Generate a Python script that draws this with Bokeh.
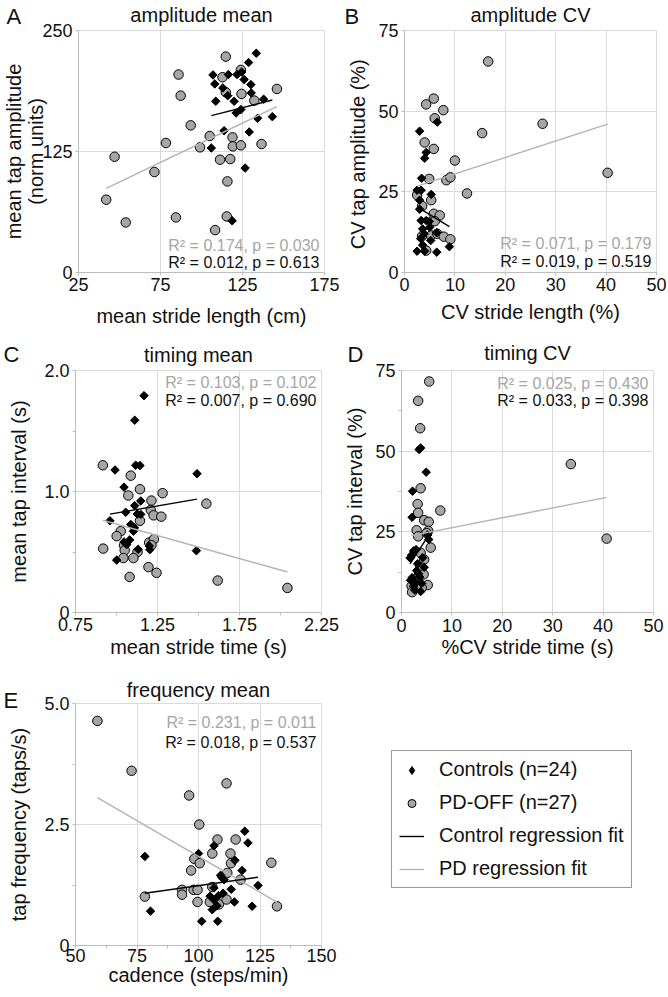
import math
from bokeh.plotting import figure
from bokeh.models import (FixedTicker, Label, Legend, LegendItem, Range1d, Title,
                          CustomJSTickFormatter)
from bokeh.layouts import column, row
from bokeh.embed import file_html
from bokeh.resources import INLINE

FONT = "Liberation Sans"
GREY_PT = "#a6a6a6"
GREY_LN = "#b4b4b4"
GREY_TX = "#a6a6a6"
AXC = "#bdbdbd"
GRIDC = "#dadada"
TXT = "#111111"

# ---------------- data ----------------
# A: amplitude mean
a_ctrl_x = [133.4, 128.7, 107.0, 116.4, 121.7, 108.1, 113.0, 126.0, 130.1, 116.0, 130.3, 108.7,
            119.9, 137.9, 124.0, 121.1, 134.2, 143.2, 113.8, 129.1, 106.0, 126.6, 118.7, 124.5]
a_ctrl_y = [226.5, 216.9, 204.1, 204.5, 204.5, 194.8, 190.7, 199.3, 194.1, 182.7, 185.5, 176.9,
            176.9, 179.0, 168.3, 164.8, 159.3, 161.0, 146.5, 145.2, 128.6, 107.9, 53.4, 207.0]
a_pd_x = [114.8, 86.0, 112.8, 124.0, 87.3, 114.8, 124.4, 132.2, 146.0, 93.4, 105.0, 78.3, 99.1, 118.9,
          119.1, 124.0, 136.6, 47.0, 71.3, 111.3, 117.5, 115.8, 41.9, 53.8, 84.4, 115.4, 108.3]
a_pd_y = [223.0, 204.5, 201.7, 209.3, 182.7, 186.2, 184.5, 177.6, 189.6, 152.0, 141.0, 133.8, 129.3, 139.6,
          130.3, 131.4, 132.7, 119.6, 103.8, 116.5, 117.2, 94.1, 75.2, 51.7, 56.9, 57.9, 43.8]
a_fit_ctrl = [0.436, 115.8]   # slope, intercept
a_fit_pd = [0.811, 53.0]
a_stats = ["R\u00b2 = 0.174, p = 0.030", "R\u00b2 = 0.012, p = 0.613"]  # PD, Controls

# B: amplitude CV
b_ctrl_x = [3.0, 6.5, 4.3, 4.0, 3.4, 2.5, 3.3, 5.3, 3.0, 3.0, 3.3, 4.3, 4.9, 3.6, 3.9, 6.4, 3.6, 5.2,
            2.5, 4.0, 6.4, 8.9, 5.0, 3.2]
b_ctrl_y = [43.8, 46.6, 37.2, 35.4, 29.2, 25.5, 25.5, 24.2, 22.4, 19.6, 16.1, 16.1, 15.8, 13.5, 12.0,
            12.3, 8.5, 9.9, 6.6, 6.6, 6.3, 8.0, 14.0, 10.5]
b_pd_x = [16.6, 5.8, 4.3, 7.7, 6.0, 27.4, 15.4, 4.0, 5.8, 10.0, 4.9, 8.3, 9.1, 40.3, 12.4, 2.5, 3.5,
          5.3, 5.8, 7.0, 6.0, 3.5, 5.3, 6.5, 7.8, 9.1, 4.3]
b_pd_y = [65.4, 53.9, 52.1, 50.3, 47.8, 46.1, 43.2, 40.3, 38.3, 34.7, 29.0, 28.6, 29.5, 30.9, 24.5,
          24.0, 20.6, 22.4, 18.2, 17.7, 15.9, 11.3, 11.5, 12.0, 11.1, 10.3, 6.8]
b_fit_ctrl = [-0.95, 22.7]
b_fit_pd = [0.508, 25.5]
b_stats = ["R\u00b2 = 0.071, p = 0.179", "R\u00b2 = 0.019, p = 0.519"]

# C: timing mean
c_ctrl_x = [1.168, 1.111, 1.117, 1.143, 0.991, 1.491, 1.046, 1.111, 1.148, 1.056, 1.127, 1.148,
            0.960, 1.087, 1.103, 1.046, 1.062, 1.132, 1.203, 1.487, 1.001, 1.080, 1.200, 1.110]
c_ctrl_y = [1.792, 1.589, 1.217, 1.214, 1.178, 1.147, 1.036, 0.883, 0.922, 0.828, 0.814, 0.811,
            0.758, 0.728, 0.672, 0.583, 0.561, 0.522, 0.519, 0.511, 0.433, 0.600, 0.550, 0.700]
c_pd_x = [0.917, 1.087, 1.143, 1.072, 1.281, 1.213, 1.209, 1.226, 1.273, 1.548, 1.143, 1.026, 1.001,
          1.199, 1.228, 1.213, 1.046, 1.050, 0.919, 1.128, 1.042, 1.103, 1.195, 1.244, 1.080, 1.617, 2.042]
c_pd_y = [1.217, 1.131, 1.019, 0.967, 0.986, 0.925, 0.847, 0.803, 0.792, 0.900, 0.758, 0.672, 0.631,
          0.578, 0.606, 0.556, 0.556, 0.514, 0.528, 0.500, 0.450, 0.450, 0.375, 0.328, 0.294, 0.264, 0.203]
c_fit_ctrl = [0.235, 0.587]
c_fit_pd = [-0.380, 1.111]
c_stats = ["R\u00b2 = 0.103, p = 0.102", "R\u00b2 = 0.007, p = 0.690"]

# D: timing CV
d_ctrl_x = [3.5, 3.8, 4.9, 2.2, 2.1, 2.4, 2.0, 1.7, 5.4, 5.2, 3.2, 3.4, 2.1, 1.8, 2.6, 3.8, 2.6, 4.0,
            4.5, 3.0, 2.4, 4.2, 3.6, 2.9]
d_ctrl_y = [50.5, 51.0, 43.5, 37.6, 29.5, 19.1, 17.8, 16.9, 22.6, 24.0, 15.1, 12.0, 10.8, 10.0, 9.5,
            6.5, 7.0, 9.0, 14.0, 13.0, 8.2, 17.0, 11.0, 19.5]
d_pd_x = [5.5, 3.3, 3.7, 33.6, 3.8, 4.5, 3.2, 3.3, 7.7, 5.4, 3.0, 5.3, 3.3, 5.8, 3.8, 4.5, 3.7, 4.4,
          2.3, 3.3, 5.2, 2.0, 4.0, 2.1, 40.7, 5.0, 3.2]
d_pd_y = [71.6, 65.6, 57.1, 46.0, 38.5, 28.6, 33.6, 30.9, 31.6, 28.1, 25.5, 25.3, 23.6, 20.1, 18.5,
          16.4, 14.1, 11.8, 9.9, 10.1, 8.5, 8.2, 7.6, 6.3, 22.9, 24.6, 10.9]
d_fit_ctrl = [2.4, 11.0]
d_fit_pd = [0.307, 23.2]
d_stats = ["R\u00b2 = 0.025, p = 0.430", "R\u00b2 = 0.033, p = 0.398"]

# E: frequency mean
e_ctrl_x = [118.8, 120.1, 106.3, 100.0, 114.8, 78.2, 117.7, 109.0, 110.4, 124.2, 106.3, 113.3, 104.7,
            108.1, 106.3, 114.6, 121.8, 105.6, 80.5, 101.3, 107.8, 107.5, 109.5, 110.0]
e_ctrl_y = [2.36, 2.12, 2.06, 1.90, 1.76, 1.84, 1.55, 1.45, 1.36, 1.24, 1.19, 1.16, 1.02, 1.03, 0.94,
            0.90, 0.81, 0.74, 0.71, 0.50, 0.50, 0.82, 1.40, 1.08]
e_pd_x = [58.9, 72.8, 111.4, 96.2, 100.3, 107.7, 115.1, 105.6, 98.3, 100.5, 113.0, 113.2, 97.0, 111.7,
          129.6, 117.1, 93.3, 98.0, 99.6, 105.6, 93.3, 78.2, 99.6, 104.6, 108.3, 111.4, 131.9]
e_pd_y = [4.64, 3.61, 3.35, 3.10, 2.50, 2.19, 2.19, 1.90, 1.79, 1.70, 1.90, 1.70, 1.55, 1.50, 1.71,
          1.36, 1.15, 1.15, 1.15, 1.21, 1.05, 1.01, 0.90, 0.90, 0.85, 0.95, 0.81]
e_fit_ctrl = [0.00717, 0.52]
e_fit_pd = [-0.0296, 4.80]
e_stats = ["R\u00b2 = 0.231, p = 0.011", "R\u00b2 = 0.018, p = 0.537"]

legend_labels = ["Controls (n=24)", "PD-OFF (n=27)", "Control regression fit", "PD regression fit"]

FMT1 = CustomJSTickFormatter(code="return tick == 0 ? '0' : tick.toFixed(1);")
FMT2 = CustomJSTickFormatter(code="return tick.toFixed(2);")


def panel(title, letter, xlab, ylab, xr, yr, xt, yt, fw, fh, bl, br, bt, bb,
          ctrl, pd, fit_ctrl, fit_pd, stats, stats_y, letter_off, title_so, letter_so,
          x_lab_so, x_tick_so, y_lab_so,
          xminor=None, yminor=None, xfmt=None, yfmt=None, ylab_lh=1.2):
    p = figure(frame_width=fw, frame_height=fh, x_range=Range1d(*xr), y_range=Range1d(*yr),
               toolbar_location=None, output_backend="svg",
               min_border_left=bl, min_border_right=br, min_border_top=bt, min_border_bottom=bb)
    p.title.text = title
    p.title.align = "center"
    p.title.text_font = FONT
    p.title.text_font_size = "20px"
    p.title.text_font_style = "normal"
    p.title.text_color = TXT
    p.title.standoff = title_so
    # panel letter: a left-aligned title pulled out to the left of the frame
    p.add_layout(Title(text=letter, align="left", offset=letter_off, standoff=letter_so,
                       text_font=FONT, text_font_size="22px", text_font_style="normal",
                       text_color=TXT), "above")
    p.background_fill_color = "white"
    p.border_fill_color = "white"
    p.outline_line_color = GRIDC

    xtk = FixedTicker(ticks=xt, minor_ticks=xminor or [])
    ytk = FixedTicker(ticks=yt, minor_ticks=yminor or [])
    p.xaxis.ticker = xtk
    p.yaxis.ticker = ytk
    p.xgrid.ticker = xtk
    p.ygrid.ticker = ytk
    p.grid.grid_line_color = GRIDC
    p.grid.grid_line_width = 1
    if xfmt is not None:
        p.xaxis.formatter = xfmt
    if yfmt is not None:
        p.yaxis.formatter = yfmt

    p.xaxis.axis_label = xlab
    p.yaxis.axis_label = ylab
    for ax in (p.xaxis[0], p.yaxis[0]):
        ax.axis_line_color = AXC
        ax.major_tick_line_color = AXC
        ax.minor_tick_line_color = AXC
        ax.major_tick_out = 3
        ax.major_tick_in = 0
        ax.minor_tick_out = 3
        ax.minor_tick_in = 0
        ax.major_label_text_font = FONT
        ax.major_label_text_font_size = "18px"
        ax.major_label_text_color = TXT
        ax.major_label_standoff = 3
        ax.axis_label_text_font = FONT
        ax.axis_label_text_font_size = "20px"
        ax.axis_label_text_font_style = "normal"
        ax.axis_label_text_color = TXT
    p.xaxis[0].axis_label_standoff = x_lab_so
    p.xaxis[0].major_label_standoff = x_tick_so
    p.yaxis[0].axis_label_standoff = y_lab_so
    p.yaxis[0].axis_label_text_line_height = ylab_lh

    # points
    p.scatter(pd[0], pd[1], marker="circle", size=9.5, fill_color=GREY_PT,
              line_color="black", line_width=1)
    p.scatter(ctrl[0], ctrl[1], marker="square", angle=math.pi / 4, size=6,
              fill_color="black", line_color="black")
    # regression fits over each group's x-extent
    for (xs, fit, col) in ((pd[0], fit_pd, GREY_LN), (ctrl[0], fit_ctrl, "black")):
        x0, x1 = min(xs), max(xs)
        p.line([x0, x1], [fit[0] * x0 + fit[1], fit[0] * x1 + fit[1]],
               line_color=col, line_width=1.4)

    # statistics text
    for txt, yy, col in ((stats[0], stats_y[0], GREY_TX), (stats[1], stats_y[1], TXT)):
        p.add_layout(Label(x=fw - 5, y=yy, x_units="screen", y_units="screen", text=txt,
                           text_align="right", text_baseline="middle", text_font=FONT,
                           text_font_size="16px", text_color=col))
    return p


FH = 242
LW, RW = 246, 252
pA = panel("amplitude mean", "A", "mean stride length (cm)", "mean tap amplitude\n(norm units)",
           (25, 175), (0, 250), [25, 75, 125, 175], [0, 125, 250], LW, FH, 75, 19, 30, 64,
           (a_ctrl_x, a_ctrl_y), (a_pd_x, a_pd_y), a_fit_ctrl, a_fit_pd, a_stats, (27, 10),
           -72, -50, 3, 11, 2, -8, ylab_lh=1.0)
pB = panel("amplitude CV", "B", "CV stride length (%)", "CV  tap amplitude (%)",
           (0, 50), (0, 75), [0, 10, 20, 30, 40, 50], [0, 25, 50, 75], RW, FH, 61, 12, 30, 64,
           (b_ctrl_x, b_ctrl_y), (b_pd_x, b_pd_y), b_fit_ctrl, b_fit_pd, b_stats, (29, 11),
           -60, -50, 3, 7, 2, 6)
pC = panel("timing mean", "C", "mean stride time (s)", "mean tap interval (s)",
           (0.75, 2.25), (0, 2), [0.75, 1.25, 1.75, 2.25], [0, 1, 2], LW, FH, 75, 19, 34, 63,
           (c_ctrl_x, c_ctrl_y), (c_pd_x, c_pd_y), c_fit_ctrl, c_fit_pd, c_stats, (230, 212),
           -72, -58, 7, 2, 2, 11, xminor=[1.0, 1.5, 2.0], yminor=[0.5, 1.5], xfmt=FMT2, yfmt=FMT1)
pD = panel("timing CV", "D", "%CV stride time (s)", "CV tap interval (%)",
           (0, 50), (0, 75), [0, 10, 20, 30, 40, 50], [0, 25, 50, 75], RW, FH, 61, 12, 34, 63,
           (d_ctrl_x, d_ctrl_y), (d_pd_x, d_pd_y), d_fit_ctrl, d_fit_pd, d_stats, (229, 212),
           -54, -54, 7, 1, 3, 6, yminor=[12.5, 37.5, 62.5])
pE = panel("frequency mean", "E", "cadence (steps/min)", "tap frequency (taps/s)",
           (50, 150), (0, 5), [50, 75, 100, 125, 150], [0, 2.5, 5], LW, FH, 75, 19, 28, 48,
           (e_ctrl_x, e_ctrl_y), (e_pd_x, e_pd_y), e_fit_ctrl, e_fit_pd, e_stats, (223, 203),
           -72, -10, -19, -1, 0, 11,
           xminor=[62.5, 87.5, 112.5, 137.5], yminor=[1.25, 3.75], yfmt=FMT1)

# legend panel
pL = figure(frame_width=325, frame_height=FH, x_range=Range1d(0, 1), y_range=Range1d(0, 1),
            toolbar_location=None, output_backend="svg",
            min_border_left=0, min_border_right=0, min_border_top=28, min_border_bottom=48)
pL.axis.visible = False
pL.grid.visible = False
pL.outline_line_color = None
pL.border_fill_color = "white"
hid_x, hid_y = [-5], [-5]   # keys only: drawn outside the visible range
r1 = pL.scatter(hid_x, hid_y, marker="diamond", size=9, fill_color="black", line_color="black")
r2 = pL.scatter(hid_x, hid_y, marker="circle", size=9, fill_color=GREY_PT, line_color="black", line_width=1)
r3 = pL.line(hid_x, hid_y, line_color="black", line_width=1.4)
r4 = pL.line(hid_x, hid_y, line_color=GREY_LN, line_width=1.4)
leg = Legend(items=[LegendItem(label=legend_labels[0], renderers=[r1]),
                    LegendItem(label=legend_labels[1], renderers=[r2]),
                    LegendItem(label=legend_labels[2], renderers=[r3]),
                    LegendItem(label=legend_labels[3], renderers=[r4])],
             location=(51, 57), border_line_color="#333333", border_line_width=1,
             padding=7, spacing=10, glyph_width=25, glyph_height=20, label_height=16,
             label_standoff=15, label_text_font=FONT, label_text_font_size="20px",
             label_text_color=TXT, background_fill_color="white", background_fill_alpha=1,
             margin=0)
pL.add_layout(leg)

layout = column(row(pA, pB), row(pC, pD), row(pE, pL))
open("out.html", "w").write(file_html(layout, INLINE))
